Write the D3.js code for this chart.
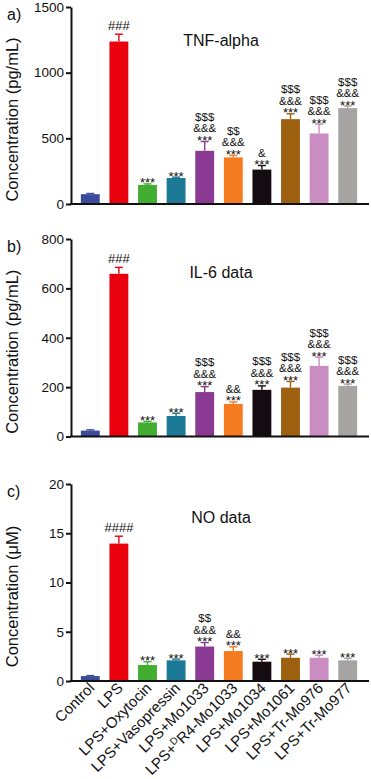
<!DOCTYPE html>
<html>
<head>
<meta charset="utf-8">
<script src="https://cdn.jsdelivr.net/npm/d3@7.9.0/dist/d3.min.js"></script>
<style>
  body { margin: 0; background: #fff; }
  svg text { font-family: Arial, "Liberation Sans", Helvetica, sans-serif; fill: #111; }
</style>
</head>
<body>
<svg id="chart" width="371" height="779"></svg>
<script>
// groups along the x axis
const groups = ["Control", "LPS", "LPS+Oxytocin", "LPS+Vasopressin", "LPS+Mo1033",
  "LPS+DR4-Mo1033", "LPS+Mo1034", "LPS+Mo1061", "LPS+Tr-Mo976", "LPS+Tr-Mo977"];
const colors = ["#3d4b9c", "#e8000d", "#41ad31", "#1d7a96", "#8b3a93",
  "#f47b1f", "#140c10", "#9c600f", "#c98dc2", "#a6a3a3"];

// a) TNF-alpha (pg/mL)
const tnfMean = [75, 1237, 145, 198, 405, 355, 262, 646, 537, 730];
const tnfErr = [5, 56, 8, 6, 71, 15, 31, 41, 71, 16];
const tnfSig = ["", "###", "***", "***", "$$$|&&&|***", "$$|&&&|***", "&|***",
  "$$$|&&&|***", "$$$|&&&|***", "$$$|&&&|***"];
const tnfTicks = [0, 500, 1000, 1500];

// b) IL-6 (pg/mL)
const il6Mean = [24, 659, 57, 83, 180, 132, 189, 198, 286, 205];
const il6Err = [3, 26, 4, 11, 22, 8, 16, 25, 35, 7];
const il6Sig = ["", "###", "***", "***", "$$$|&&&|***", "&&|***", "$$$|&&&|***",
  "$$$|&&&|***", "$$$|&&&|***", "$$$|&&&|***"];
const il6Ticks = [0, 200, 400, 600, 800];

// c) NO (µM)
const noMean = [0.5, 13.95, 1.62, 2.1, 3.5, 3.04, 1.96, 2.36, 2.36, 2.1];
const noErr = [0.05, 0.75, 0.34, 0.12, 0.4, 0.43, 0.24, 0.37, 0.24, 0.2];
const noSig = ["", "####", "***", "***", "$$|&&&|***", "&&|***", "***", "***", "***", "***"];
const noTicks = [0, 5, 10, 15, 20];

const panels = [
  { tag: "a)", title: "TNF-alpha", ylab: "Concentration (pg/mL)", mean: tnfMean, err: tnfErr, sig: tnfSig, ticks: tnfTicks, top: 7, bottom: 204 },
  { tag: "b)", title: "IL-6 data", ylab: "Concentration (pg/mL)", mean: il6Mean, err: il6Err, sig: il6Sig, ticks: il6Ticks, top: 239, bottom: 436.5 },
  { tag: "c)", title: "NO data", ylab: "Concentration (\u03bcM)", mean: noMean, err: noErr, sig: noSig, ticks: noTicks, top: 484, bottom: 681 }
];

const svg = d3.select("#chart");
const axisX = 71, axisEnd = 369;

const x = d3.scaleBand().domain(groups).range([76, 362]).paddingInner(0.34).paddingOuter(0.17);

panels.forEach((p) => {
  const yMax = p.ticks[p.ticks.length - 1];
  const y = d3.scaleLinear().domain([0, yMax]).range([p.bottom, p.top]);
  const g = svg.append("g");

  // bars
  g.selectAll("rect.bar").data(groups).join("rect")
    .attr("class", "bar")
    .attr("x", (d) => x(d))
    .attr("width", x.bandwidth())
    .attr("y", (d, i) => y(p.mean[i]))
    .attr("height", (d, i) => p.bottom - y(p.mean[i]))
    .attr("fill", (d, i) => colors[i]);

  // error bars (upper only)
  groups.forEach((d, i) => {
    const cx = x(d) + x.bandwidth() / 2;
    const y0 = y(p.mean[i]), y1 = y(p.mean[i] + p.err[i]);
    g.append("line").attr("x1", cx).attr("x2", cx).attr("y1", y0).attr("y2", y1)
      .attr("stroke", colors[i]).attr("stroke-width", 1.4);
    g.append("line").attr("x1", cx - 4).attr("x2", cx + 4).attr("y1", y1).attr("y2", y1)
      .attr("stroke", colors[i]).attr("stroke-width", 1.4);

    // significance marks, stacked upward
    if (p.sig[i]) {
      const lines = p.sig[i].split("|").reverse();
      lines.forEach((s, k) => {
        const isHash = s.startsWith("#");
        g.append("text")
          .attr("x", cx)
          .attr("y", isHash ? y1 - 4 : y1 + 3.5 - k * 11.5 - (k > 0 ? 1 : 0))
          .attr("text-anchor", "middle")
          .attr("font-size", isHash ? 13 : (s.startsWith("*") ? 13 : 11.5))
          .attr("fill", "#222")
          .text(s);
      });
    }
  });

  // y axis
  const yAxis = g.append("g").attr("transform", `translate(${axisX},0)`)
    .call(d3.axisLeft(y).tickValues(p.ticks).tickFormat(d3.format("d"))
      .tickSize(5).tickSizeOuter(0).tickPadding(2));
  yAxis.select(".domain").attr("stroke", "#111").attr("stroke-width", 2);
  yAxis.selectAll(".tick line").attr("stroke", "#111").attr("stroke-width", 2);
  yAxis.selectAll(".tick text").attr("font-size", 13.5).attr("font-family", "Arial, 'Liberation Sans', sans-serif").attr("fill", "#111");

  // x baseline
  g.append("line").attr("x1", axisX - 1).attr("x2", axisEnd).attr("y1", p.bottom).attr("y2", p.bottom)
    .attr("stroke", "#111").attr("stroke-width", 2);

  // titles
  g.append("text").attr("x", 221).attr("y", p.top + 39).attr("text-anchor", "middle")
    .attr("font-size", 16).text(p.title);
  g.append("text").attr("x", 7).attr("y", p.top + 13).attr("font-size", 16).text(p.tag);
  g.append("text")
    .attr("transform", `translate(18,${(p.top + p.bottom) / 2 + 14}) rotate(-90)`)
    .attr("text-anchor", "middle").attr("font-size", 16.5).text(p.ylab);
});

// x tick labels under the last panel
const lastBottom = panels[2].bottom;
groups.forEach((d) => {
  const cx = x(d) + x.bandwidth() / 2;
  const t = svg.append("text")
    .attr("transform", `translate(${cx + 5},${lastBottom + 8}) rotate(-45)`)
    .attr("text-anchor", "end")
    .attr("font-size", 15);
  if (d === "LPS+DR4-Mo1033") {
    t.append("tspan").text("LPS+");
    t.append("tspan").attr("font-size", 10).attr("dy", -5.5).text("D");
    t.append("tspan").attr("dy", 5.5).text("R4-Mo1033");
  } else {
    t.text(d);
  }
});
</script>
</body>
</html>
